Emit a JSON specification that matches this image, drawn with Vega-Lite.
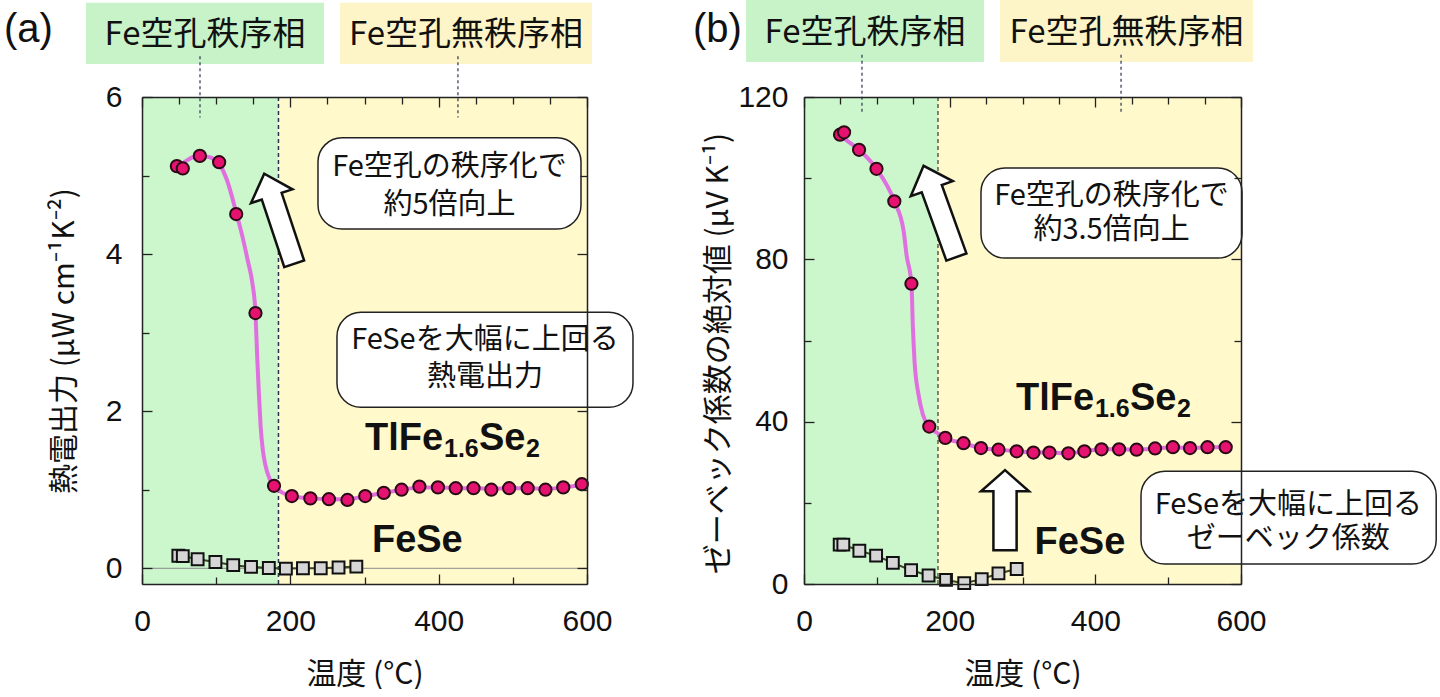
{
  "$schema": "https://vega.github.io/schema/vega-lite/v6.json",
  "background": "white",
  "padding": {"left": 4, "top": 0, "right": 0, "bottom": 0},
  "autosize": {"type": "pad"},
  "config": {"view": {"stroke": null}},
  "datasets": {
    "phases": [
      {"phase": "order", "from": 0, "to": 184},
      {"phase": "disorder", "from": 184, "to": 600}
    ],
    "a_tl": [
      {"T": 47, "v": 5.12}, {"T": 55, "v": 5.09}, {"T": 78, "v": 5.25}, {"T": 104, "v": 5.17},
      {"T": 127, "v": 4.51}, {"T": 153, "v": 3.25}, {"T": 178, "v": 1.05}, {"T": 202, "v": 0.92},
      {"T": 227, "v": 0.89}, {"T": 252, "v": 0.88}, {"T": 277, "v": 0.87}, {"T": 301, "v": 0.92},
      {"T": 326, "v": 0.96}, {"T": 350, "v": 1.0}, {"T": 374, "v": 1.04}, {"T": 399, "v": 1.03},
      {"T": 423, "v": 1.02}, {"T": 447, "v": 1.02}, {"T": 471, "v": 1.0}, {"T": 495, "v": 1.02},
      {"T": 520, "v": 1.02}, {"T": 544, "v": 1.0}, {"T": 568, "v": 1.03}, {"T": 593, "v": 1.07}
    ],
    "a_curve": [
      {"T": 50, "v": 5.12}, {"T": 60, "v": 5.19}, {"T": 70, "v": 5.24}, {"T": 80, "v": 5.25},
      {"T": 92, "v": 5.23}, {"T": 104, "v": 5.15}, {"T": 115, "v": 4.93}, {"T": 127, "v": 4.53},
      {"T": 136, "v": 4.2}, {"T": 143, "v": 3.9}, {"T": 149, "v": 3.62}, {"T": 153, "v": 3.25},
      {"T": 155.5, "v": 2.65}, {"T": 158, "v": 2.15}, {"T": 160, "v": 1.8}, {"T": 163, "v": 1.5},
      {"T": 166, "v": 1.33}, {"T": 172, "v": 1.14}, {"T": 178, "v": 1.05}, {"T": 190, "v": 0.96},
      {"T": 202, "v": 0.92}, {"T": 227, "v": 0.89}, {"T": 252, "v": 0.88}, {"T": 277, "v": 0.88},
      {"T": 301, "v": 0.92}, {"T": 326, "v": 0.96}, {"T": 350, "v": 1.0}, {"T": 374, "v": 1.03},
      {"T": 399, "v": 1.03}, {"T": 423, "v": 1.02}, {"T": 447, "v": 1.02}, {"T": 471, "v": 1.01},
      {"T": 495, "v": 1.02}, {"T": 520, "v": 1.02}, {"T": 544, "v": 1.01}, {"T": 568, "v": 1.03},
      {"T": 593, "v": 1.06}
    ],
    "a_fese": [
      {"T": 49, "v": 0.16}, {"T": 55, "v": 0.155}, {"T": 75, "v": 0.115}, {"T": 99, "v": 0.08},
      {"T": 123, "v": 0.04}, {"T": 147, "v": 0.017}, {"T": 171, "v": 0.004}, {"T": 194, "v": -0.004},
      {"T": 217, "v": 0}, {"T": 241, "v": 0}, {"T": 265, "v": 0.01}, {"T": 289, "v": 0.022}
    ],
    "b_tl": [
      {"T": 49.5, "v": 110.7}, {"T": 55, "v": 111.3}, {"T": 75.6, "v": 107}, {"T": 99.5, "v": 102.3},
      {"T": 124, "v": 94.3}, {"T": 147.5, "v": 74}, {"T": 172, "v": 38.8}, {"T": 194, "v": 36},
      {"T": 219, "v": 34.7}, {"T": 243, "v": 33.5}, {"T": 267, "v": 33.1}, {"T": 292, "v": 32.7},
      {"T": 315, "v": 32.4}, {"T": 337, "v": 32.4}, {"T": 363, "v": 32.2}, {"T": 385, "v": 32.7},
      {"T": 408.5, "v": 33.2}, {"T": 432.6, "v": 33.2}, {"T": 456.6, "v": 33.1}, {"T": 482, "v": 33.4},
      {"T": 506.5, "v": 33.7}, {"T": 530, "v": 33.5}, {"T": 554, "v": 33.7}, {"T": 579, "v": 33.7}
    ],
    "b_curve": [
      {"T": 49.5, "v": 110.7}, {"T": 58.7, "v": 109.3}, {"T": 75.6, "v": 107}, {"T": 99.5, "v": 102.3},
      {"T": 124, "v": 94.3}, {"T": 136.6, "v": 87.2}, {"T": 141, "v": 80.8}, {"T": 147.5, "v": 74},
      {"T": 149.5, "v": 63.3}, {"T": 151.7, "v": 55.1}, {"T": 157, "v": 46.9}, {"T": 163, "v": 41.9},
      {"T": 172, "v": 38.8}, {"T": 185, "v": 37}, {"T": 194, "v": 36}, {"T": 219, "v": 34.7},
      {"T": 243, "v": 33.5}, {"T": 267, "v": 33.1}, {"T": 292, "v": 32.7}, {"T": 315, "v": 32.4},
      {"T": 337, "v": 32.4}, {"T": 363, "v": 32.2}, {"T": 385, "v": 32.7}, {"T": 408.5, "v": 33.2},
      {"T": 432.6, "v": 33.2}, {"T": 456.6, "v": 33.1}, {"T": 482, "v": 33.4}, {"T": 506.5, "v": 33.7},
      {"T": 530, "v": 33.5}, {"T": 554, "v": 33.7}, {"T": 579, "v": 33.7}
    ],
    "b_fese": [
      {"T": 49, "v": 9.7}, {"T": 54, "v": 9.7}, {"T": 76, "v": 8.2}, {"T": 99, "v": 7.0},
      {"T": 122, "v": 5.2}, {"T": 147, "v": 3.4}, {"T": 171, "v": 2.1}, {"T": 195, "v": 1.0},
      {"T": 220, "v": 0.2}, {"T": 244, "v": 1.2}, {"T": 267, "v": 2.6}, {"T": 292, "v": 3.7}
    ]
  },
  "spacing": 217,
  "bounds": "flush",
  "resolve": {"scale": {"x": "independent", "y": "independent"}},
  "hconcat": [
    {
      "width": 445,
      "height": 487,
      "resolve": {"axis": {"x": "independent", "y": "independent"}},
      "layer": [
        {
          "layer": [
            {
              "data": {"name": "phases"},
              "mark": {"type": "rect"},
              "encoding": {
                "x": {"field": "from", "type": "quantitative", "scale": {"domain": [0, 600], "nice": false, "zero": false},
                  "axis": {"orient": "bottom", "values": [0, 50, 100, 150, 200, 250, 300, 350, 400, 450, 500, 550, 600],
                    "format": "d",
                    "labelExpr": "datum.value % 200 === 0 ? datum.label : ''",
                    "tickSize": {"condition": {"test": "datum.value % 200 === 0", "value": -10}, "value": -7},
                    "tickColor": "#222", "tickWidth": 1.3, "domain": true, "domainColor": "#222", "domainWidth": 1.5, "grid": false,
                    "labelFont": "Liberation Sans", "labelFontSize": 30, "labelColor": "#111", "labelPadding": 32,
                    "labelFlush": false, "labelOverlap": false,
                    "title": "温度 (°C)", "titleFont": "Noto Sans CJK JP", "titleFontSize": 30, "titleFontWeight": "normal",
                    "titleColor": "#111", "titlePadding": 20, "zindex": 1}},
                "x2": {"field": "to"},
                "fill": {"field": "phase", "type": "nominal", "scale": {"domain": ["order", "disorder"], "range": ["#ccf6cc", "#fff9cc"]}, "legend": null}
              }
            },
            {
              "data": {"values": [{}]},
              "mark": {"type": "rule", "color": "#8a8a8a", "strokeWidth": 1},
              "encoding": {"y": {"datum": 0, "type": "quantitative"}}
            },
            {
              "data": {"values": [{}]},
              "mark": {"type": "rule", "color": "#2a3350", "strokeWidth": 1.5, "strokeDash": [4, 3]},
              "encoding": {"x": {"datum": 184, "type": "quantitative"}}
            },
            {
              "data": {"name": "a_fese"},
              "mark": {"type": "line", "color": "#3b4527", "strokeWidth": 2},
              "encoding": {"x": {"field": "T", "type": "quantitative"}, "y": {"field": "v", "type": "quantitative"}}
            },
            {
              "data": {"name": "a_curve"},
              "mark": {"type": "line", "color": "#e070e0", "strokeWidth": 4, "interpolate": "monotone"},
              "encoding": {"x": {"field": "T", "type": "quantitative"}, "y": {"field": "v", "type": "quantitative"}}
            },
            {
              "data": {"name": "a_fese"},
              "mark": {"type": "square", "size": 140, "filled": true, "fill": "#d6d6d6", "stroke": "#111", "strokeWidth": 2, "opacity": 1},
              "encoding": {"x": {"field": "T", "type": "quantitative"}, "y": {"field": "v", "type": "quantitative"}}
            },
            {
              "data": {"name": "a_tl"},
              "mark": {"type": "circle", "size": 150, "fill": "#e5126f", "stroke": "#2a0a14", "strokeWidth": 2, "opacity": 1},
              "encoding": {
                "x": {"field": "T", "type": "quantitative"},
                "y": {"field": "v", "type": "quantitative", "scale": {"domain": [-0.2, 6], "nice": false, "zero": false},
                  "axis": {"orient": "left", "values": [0, 1, 2, 3, 4, 5, 6],
                    "format": "d",
                    "labelExpr": "datum.value % 2 === 0 ? datum.label : ''",
                    "tickSize": {"condition": {"test": "datum.value % 2 === 0", "value": -10}, "value": -7},
                    "tickColor": "#222", "tickWidth": 1.3, "domain": true, "domainColor": "#222", "domainWidth": 1.5, "grid": false,
                    "labelFont": "Liberation Sans", "labelFontSize": 30, "labelColor": "#111", "labelPadding": 30,
                    "labelFlush": false, "labelOverlap": false,
                    "title": "熱電出力 (μW cm⁻¹K⁻²)", "titleFont": "Noto Sans CJK JP", "titleFontSize": 30, "titleFontWeight": "normal",
                    "titleColor": "#111", "titleX": -78, "titleBaseline": "middle", "zindex": 1}}
              }
            },
            {
              "data": {"values": [{}]},
              "mark": {"type": "rect", "fill": "#c8f3c8"},
              "encoding": {"x": {"datum": -75.5}, "x2": {"datum": 245.4}, "y": {"datum": 7.2}, "y2": {"datum": 6.42}}
            },
            {
              "data": {"values": [{}]},
              "mark": {"type": "rect", "fill": "#fdf5c8"},
              "encoding": {"x": {"datum": 267}, "x2": {"datum": 606.7}, "y": {"datum": 7.2}, "y2": {"datum": 6.42}}
            },
            {
              "data": {"values": [{}]},
              "mark": {"type": "text", "font": "Noto Sans CJK JP", "fontSize": 33, "color": "#111", "align": "center", "baseline": "middle"},
              "encoding": {"x": {"datum": 84.9}, "y": {"datum": 6.79}, "text": {"value": "Fe空孔秩序相"}}
            },
            {
              "data": {"values": [{}]},
              "mark": {"type": "text", "font": "Noto Sans CJK JP", "fontSize": 33, "color": "#111", "align": "center", "baseline": "middle"},
              "encoding": {"x": {"datum": 436.8}, "y": {"datum": 6.79}, "text": {"value": "Fe空孔無秩序相"}}
            },
            {
              "data": {"values": [{}]},
              "mark": {"type": "rule", "color": "#2a3350", "strokeWidth": 1.2, "strokeDash": [3, 3]},
              "encoding": {"x": {"datum": 78.2}, "y": {"datum": 6.52}, "y2": {"datum": 5.74}}
            },
            {
              "data": {"values": [{}]},
              "mark": {"type": "rule", "color": "#2a3350", "strokeWidth": 1.2, "strokeDash": [3, 3]},
              "encoding": {"x": {"datum": 426}, "y": {"datum": 6.52}, "y2": {"datum": 5.74}}
            },
            {
              "data": {"values": [{}]},
              "mark": {"type": "rect", "fill": "white", "stroke": "#222", "strokeWidth": 1.5, "cornerRadius": 24},
              "encoding": {"x": {"datum": 237.3}, "x2": {"datum": 591.9}, "y": {"datum": 5.48}, "y2": {"datum": 4.32}}
            },
            {
              "data": {"values": [{}]},
              "mark": {"type": "rect", "fill": "white", "stroke": "#222", "strokeWidth": 1.5, "cornerRadius": 24},
              "encoding": {"x": {"datum": 262.9}, "x2": {"datum": 662}, "y": {"datum": 3.26}, "y2": {"datum": 2.05}}
            },
            {
              "data": {"values": [{}]},
              "mark": {"type": "text", "font": "Noto Sans CJK JP", "fontSize": 29, "color": "#111", "align": "center", "baseline": "middle"},
              "encoding": {"x": {"datum": 414.6}, "y": {"datum": 5.11}, "text": {"value": "Fe空孔の秩序化で"}}
            },
            {
              "data": {"values": [{}]},
              "mark": {"type": "text", "font": "Noto Sans CJK JP", "fontSize": 29, "color": "#111", "align": "center", "baseline": "middle"},
              "encoding": {"x": {"datum": 414.6}, "y": {"datum": 4.63}, "text": {"value": "約5倍向上"}}
            },
            {
              "data": {"values": [{}]},
              "mark": {"type": "text", "font": "Noto Sans CJK JP", "fontSize": 29, "color": "#111", "align": "center", "baseline": "middle"},
              "encoding": {"x": {"datum": 462.4}, "y": {"datum": 2.91}, "text": {"value": "FeSeを大幅に上回る"}}
            },
            {
              "data": {"values": [{}]},
              "mark": {"type": "text", "font": "Noto Sans CJK JP", "fontSize": 29, "color": "#111", "align": "center", "baseline": "middle"},
              "encoding": {"x": {"datum": 462.4}, "y": {"datum": 2.43}, "text": {"value": "熱電出力"}}
            },
            {
              "data": {"values": [{}]},
              "mark": {"type": "point", "shape": "M -0.22 1 L 0.22 1 L 0.22 -0.5 L 0.46 -0.5 L 0 -1 L -0.46 -0.5 L -0.22 -0.5 Z", "size": 9025, "angle": -18.4, "filled": true, "fill": "white", "stroke": "#111", "strokeWidth": 2.5, "opacity": 1},
              "encoding": {"x": {"datum": 185}, "y": {"datum": 4.45}}
            },
            {
              "data": {"values": [{}]},
              "mark": {"type": "text", "font": "Liberation Sans", "fontWeight": "bold", "fontSize": 38, "color": "#111", "align": "left", "baseline": "alphabetic"},
              "encoding": {"x": {"datum": 300.7}, "y": {"datum": 1.51}, "text": {"value": "TlFe"}}
            },
            {
              "data": {"values": [{}]},
              "mark": {"type": "text", "font": "Liberation Sans", "fontWeight": "bold", "fontSize": 25, "color": "#111", "align": "left", "baseline": "alphabetic", "dx": 79, "dy": 7},
              "encoding": {"x": {"datum": 300.7}, "y": {"datum": 1.51}, "text": {"value": "1.6"}}
            },
            {
              "data": {"values": [{}]},
              "mark": {"type": "text", "font": "Liberation Sans", "fontWeight": "bold", "fontSize": 38, "color": "#111", "align": "left", "baseline": "alphabetic", "dx": 114},
              "encoding": {"x": {"datum": 300.7}, "y": {"datum": 1.51}, "text": {"value": "Se"}}
            },
            {
              "data": {"values": [{}]},
              "mark": {"type": "text", "font": "Liberation Sans", "fontWeight": "bold", "fontSize": 25, "color": "#111", "align": "left", "baseline": "alphabetic", "dx": 161, "dy": 7},
              "encoding": {"x": {"datum": 300.7}, "y": {"datum": 1.51}, "text": {"value": "2"}}
            },
            {
              "data": {"values": [{}]},
              "mark": {"type": "text", "font": "Liberation Sans", "fontWeight": "bold", "fontSize": 38, "color": "#111", "align": "left", "baseline": "alphabetic"},
              "encoding": {"x": {"datum": 310}, "y": {"datum": 0.21}, "text": {"value": "FeSe"}}
            },
            {
              "data": {"values": [{}]},
              "mark": {"type": "text", "font": "Liberation Sans", "fontSize": 40, "color": "#111", "align": "left", "baseline": "middle"},
              "encoding": {"x": {"datum": -186}, "y": {"datum": 6.85}, "text": {"value": "(a)"}}
            }
          ]
        },
        {
          "data": {"values": [{}]},
          "mark": {"type": "point", "opacity": 0},
          "encoding": {
            "x": {"datum": 0, "type": "quantitative",
              "axis": {"orient": "top", "values": [0, 50, 100, 150, 200, 250, 300, 350, 400, 450, 500, 550, 600], "labels": false, "title": null,
                "tickSize": {"condition": {"test": "datum.value % 200 === 0", "value": -10}, "value": -7},
                "tickColor": "#222", "tickWidth": 1.3, "domain": true, "domainColor": "#222", "domainWidth": 1.5, "grid": false, "zindex": 1}},
            "y": {"datum": 0, "type": "quantitative",
              "axis": {"orient": "right", "values": [0, 1, 2, 3, 4, 5, 6], "labels": false, "title": null,
                "tickSize": {"condition": {"test": "datum.value % 2 === 0", "value": -10}, "value": -7},
                "tickColor": "#222", "tickWidth": 1.3, "domain": true, "domainColor": "#222", "domainWidth": 1.5, "grid": false, "zindex": 1}}
          }
        }
      ]
    },
    {
      "width": 437,
      "height": 487,
      "resolve": {"axis": {"x": "independent", "y": "independent"}},
      "layer": [
        {
          "layer": [
            {
              "data": {"name": "phases"},
              "mark": {"type": "rect"},
              "encoding": {
                "x": {"field": "from", "type": "quantitative", "scale": {"domain": [0, 600], "nice": false, "zero": false},
                  "axis": {"orient": "bottom", "values": [0, 50, 100, 150, 200, 250, 300, 350, 400, 450, 500, 550, 600],
                    "format": "d",
                    "labelExpr": "datum.value % 200 === 0 ? datum.label : ''",
                    "tickSize": {"condition": {"test": "datum.value % 200 === 0", "value": -10}, "value": -7},
                    "tickColor": "#222", "tickWidth": 1.3, "domain": true, "domainColor": "#222", "domainWidth": 1.5, "grid": false,
                    "labelFont": "Liberation Sans", "labelFontSize": 30, "labelColor": "#111", "labelPadding": 32,
                    "labelFlush": false, "labelOverlap": false,
                    "title": "温度 (°C)", "titleFont": "Noto Sans CJK JP", "titleFontSize": 30, "titleFontWeight": "normal",
                    "titleColor": "#111", "titlePadding": 20, "zindex": 1}},
                "x2": {"field": "to"},
                "fill": {"field": "phase", "type": "nominal", "scale": {"domain": ["order", "disorder"], "range": ["#ccf6cc", "#fff9cc"]}, "legend": null}
              }
            },
            {
              "data": {"values": [{}]},
              "mark": {"type": "rule", "color": "#111", "strokeWidth": 1, "strokeDash": [4, 3]},
              "encoding": {"x": {"datum": 184, "type": "quantitative"}}
            },
            {
              "data": {"name": "b_fese"},
              "mark": {"type": "line", "color": "#3b4527", "strokeWidth": 2},
              "encoding": {"x": {"field": "T", "type": "quantitative"}, "y": {"field": "v", "type": "quantitative"}}
            },
            {
              "data": {"name": "b_curve"},
              "mark": {"type": "line", "color": "#e070e0", "strokeWidth": 4, "interpolate": "monotone"},
              "encoding": {"x": {"field": "T", "type": "quantitative"}, "y": {"field": "v", "type": "quantitative"}}
            },
            {
              "data": {"name": "b_fese"},
              "mark": {"type": "square", "size": 140, "filled": true, "fill": "#d6d6d6", "stroke": "#111", "strokeWidth": 2, "opacity": 1},
              "encoding": {"x": {"field": "T", "type": "quantitative"}, "y": {"field": "v", "type": "quantitative"}}
            },
            {
              "data": {"name": "b_tl"},
              "mark": {"type": "circle", "size": 150, "fill": "#e5126f", "stroke": "#2a0a14", "strokeWidth": 2, "opacity": 1},
              "encoding": {
                "x": {"field": "T", "type": "quantitative"},
                "y": {"field": "v", "type": "quantitative", "scale": {"domain": [0, 120], "nice": false, "zero": false},
                  "axis": {"orient": "left", "values": [0, 20, 40, 60, 80, 100, 120],
                    "format": "d",
                    "labelExpr": "datum.value % 40 === 0 ? datum.label : ''",
                    "tickSize": {"condition": {"test": "datum.value % 40 === 0", "value": -10}, "value": -7},
                    "tickColor": "#222", "tickWidth": 1.3, "domain": true, "domainColor": "#222", "domainWidth": 1.5, "grid": false,
                    "labelFont": "Liberation Sans", "labelFontSize": 30, "labelColor": "#111", "labelPadding": 26,
                    "labelFlush": false, "labelOverlap": false,
                    "title": "ゼーベック係数の絶対値 (μV K⁻¹)", "titleFont": "Noto Sans CJK JP", "titleFontSize": 30, "titleFontWeight": "normal",
                    "titleColor": "#111", "titleX": -86, "titleY": 256, "titleBaseline": "middle", "zindex": 1}}
              }
            },
            {
              "data": {"values": [{}]},
              "mark": {"type": "rect", "fill": "#c8f3c8"},
              "encoding": {"x": {"datum": -79.6}, "x2": {"datum": 247.2}, "y": {"datum": 143.9}, "y2": {"datum": 128.6}}
            },
            {
              "data": {"values": [{}]},
              "mark": {"type": "rect", "fill": "#fdf5c8"},
              "encoding": {"x": {"datum": 269.1}, "x2": {"datum": 616.5}, "y": {"datum": 143.9}, "y2": {"datum": 128.6}}
            },
            {
              "data": {"values": [{}]},
              "mark": {"type": "text", "font": "Noto Sans CJK JP", "fontSize": 33, "color": "#111", "align": "center", "baseline": "middle"},
              "encoding": {"x": {"datum": 83.8}, "y": {"datum": 135.8}, "text": {"value": "Fe空孔秩序相"}}
            },
            {
              "data": {"values": [{}]},
              "mark": {"type": "text", "font": "Noto Sans CJK JP", "fontSize": 33, "color": "#111", "align": "center", "baseline": "middle"},
              "encoding": {"x": {"datum": 442.8}, "y": {"datum": 135.8}, "text": {"value": "Fe空孔無秩序相"}}
            },
            {
              "data": {"values": [{}]},
              "mark": {"type": "rule", "color": "#2a3350", "strokeWidth": 1.2, "strokeDash": [3, 3]},
              "encoding": {"x": {"datum": 79.6}, "y": {"datum": 130.4}, "y2": {"datum": 116.1}}
            },
            {
              "data": {"values": [{}]},
              "mark": {"type": "rule", "color": "#2a3350", "strokeWidth": 1.2, "strokeDash": [3, 3]},
              "encoding": {"x": {"datum": 435.3}, "y": {"datum": 130.4}, "y2": {"datum": 116.1}}
            },
            {
              "data": {"values": [{}]},
              "mark": {"type": "rect", "fill": "white", "stroke": "#222", "strokeWidth": 1.5, "cornerRadius": 24},
              "encoding": {"x": {"datum": 243}, "x2": {"datum": 601.4}, "y": {"datum": 102.5}, "y2": {"datum": 80.3}}
            },
            {
              "data": {"values": [{}]},
              "mark": {"type": "rect", "fill": "white", "stroke": "#222", "strokeWidth": 1.5, "cornerRadius": 24},
              "encoding": {"x": {"datum": 462.7}, "x2": {"datum": 868}, "y": {"datum": 27.8}, "y2": {"datum": 4.9}}
            },
            {
              "data": {"values": [{}]},
              "mark": {"type": "text", "font": "Noto Sans CJK JP", "fontSize": 29, "color": "#111", "align": "center", "baseline": "middle"},
              "encoding": {"x": {"datum": 422.2}, "y": {"datum": 95.6}, "text": {"value": "Fe空孔の秩序化で"}}
            },
            {
              "data": {"values": [{}]},
              "mark": {"type": "text", "font": "Noto Sans CJK JP", "fontSize": 29, "color": "#111", "align": "center", "baseline": "middle"},
              "encoding": {"x": {"datum": 422.2}, "y": {"datum": 87.3}, "text": {"value": "約3.5倍向上"}}
            },
            {
              "data": {"values": [{}]},
              "mark": {"type": "text", "font": "Noto Sans CJK JP", "fontSize": 29, "color": "#111", "align": "center", "baseline": "middle"},
              "encoding": {"x": {"datum": 665}, "y": {"datum": 19.5}, "text": {"value": "FeSeを大幅に上回る"}}
            },
            {
              "data": {"values": [{}]},
              "mark": {"type": "text", "font": "Noto Sans CJK JP", "fontSize": 29, "color": "#111", "align": "center", "baseline": "middle"},
              "encoding": {"x": {"datum": 665}, "y": {"datum": 11.1}, "text": {"value": "ゼーベック係数"}}
            },
            {
              "data": {"values": [{}]},
              "mark": {"type": "point", "shape": "M -0.22 1 L 0.22 1 L 0.22 -0.5 L 0.46 -0.5 L 0 -1 L -0.46 -0.5 L -0.22 -0.5 Z", "size": 9400, "angle": -19.8, "filled": true, "fill": "white", "stroke": "#111", "strokeWidth": 2.5, "opacity": 1},
              "encoding": {"x": {"datum": 186.7}, "y": {"datum": 91.8}}
            },
            {
              "data": {"values": [{}]},
              "mark": {"type": "point", "shape": "M -0.29 1 L 0.29 1 L 0.29 -0.47 L 0.6 -0.47 L 0 -1 L -0.6 -0.47 L -0.29 -0.47 Z", "size": 6400, "filled": true, "fill": "white", "stroke": "#111", "strokeWidth": 2.5, "opacity": 1},
              "encoding": {"x": {"datum": 276}, "y": {"datum": 18.2}}
            },
            {
              "data": {"values": [{}]},
              "mark": {"type": "text", "font": "Liberation Sans", "fontWeight": "bold", "fontSize": 38, "color": "#111", "align": "left", "baseline": "alphabetic"},
              "encoding": {"x": {"datum": 291}, "y": {"datum": 42.9}, "text": {"value": "TlFe"}}
            },
            {
              "data": {"values": [{}]},
              "mark": {"type": "text", "font": "Liberation Sans", "fontWeight": "bold", "fontSize": 25, "color": "#111", "align": "left", "baseline": "alphabetic", "dx": 79, "dy": 7},
              "encoding": {"x": {"datum": 291}, "y": {"datum": 42.9}, "text": {"value": "1.6"}}
            },
            {
              "data": {"values": [{}]},
              "mark": {"type": "text", "font": "Liberation Sans", "fontWeight": "bold", "fontSize": 38, "color": "#111", "align": "left", "baseline": "alphabetic", "dx": 114},
              "encoding": {"x": {"datum": 291}, "y": {"datum": 42.9}, "text": {"value": "Se"}}
            },
            {
              "data": {"values": [{}]},
              "mark": {"type": "text", "font": "Liberation Sans", "fontWeight": "bold", "fontSize": 25, "color": "#111", "align": "left", "baseline": "alphabetic", "dx": 161, "dy": 7},
              "encoding": {"x": {"datum": 291}, "y": {"datum": 42.9}, "text": {"value": "2"}}
            },
            {
              "data": {"values": [{}]},
              "mark": {"type": "text", "font": "Liberation Sans", "fontWeight": "bold", "fontSize": 38, "color": "#111", "align": "left", "baseline": "alphabetic"},
              "encoding": {"x": {"datum": 316.5}, "y": {"datum": 7.4}, "text": {"value": "FeSe"}}
            },
            {
              "data": {"values": [{}]},
              "mark": {"type": "text", "font": "Liberation Sans", "fontSize": 40, "color": "#111", "align": "left", "baseline": "middle"},
              "encoding": {"x": {"datum": -152.4}, "y": {"datum": 136.5}, "text": {"value": "(b)"}}
            }
          ]
        },
        {
          "data": {"values": [{}]},
          "mark": {"type": "point", "opacity": 0},
          "encoding": {
            "x": {"datum": 0, "type": "quantitative",
              "axis": {"orient": "top", "values": [0, 50, 100, 150, 200, 250, 300, 350, 400, 450, 500, 550, 600], "labels": false, "title": null,
                "tickSize": {"condition": {"test": "datum.value % 200 === 0", "value": -10}, "value": -7},
                "tickColor": "#222", "tickWidth": 1.3, "domain": true, "domainColor": "#222", "domainWidth": 1.5, "grid": false, "zindex": 1}},
            "y": {"datum": 0, "type": "quantitative",
              "axis": {"orient": "right", "values": [0, 20, 40, 60, 80, 100, 120], "labels": false, "title": null,
                "tickSize": {"condition": {"test": "datum.value % 40 === 0", "value": -10}, "value": -7},
                "tickColor": "#222", "tickWidth": 1.3, "domain": true, "domainColor": "#222", "domainWidth": 1.5, "grid": false, "zindex": 1}}
          }
        }
      ]
    }
  ]
}
